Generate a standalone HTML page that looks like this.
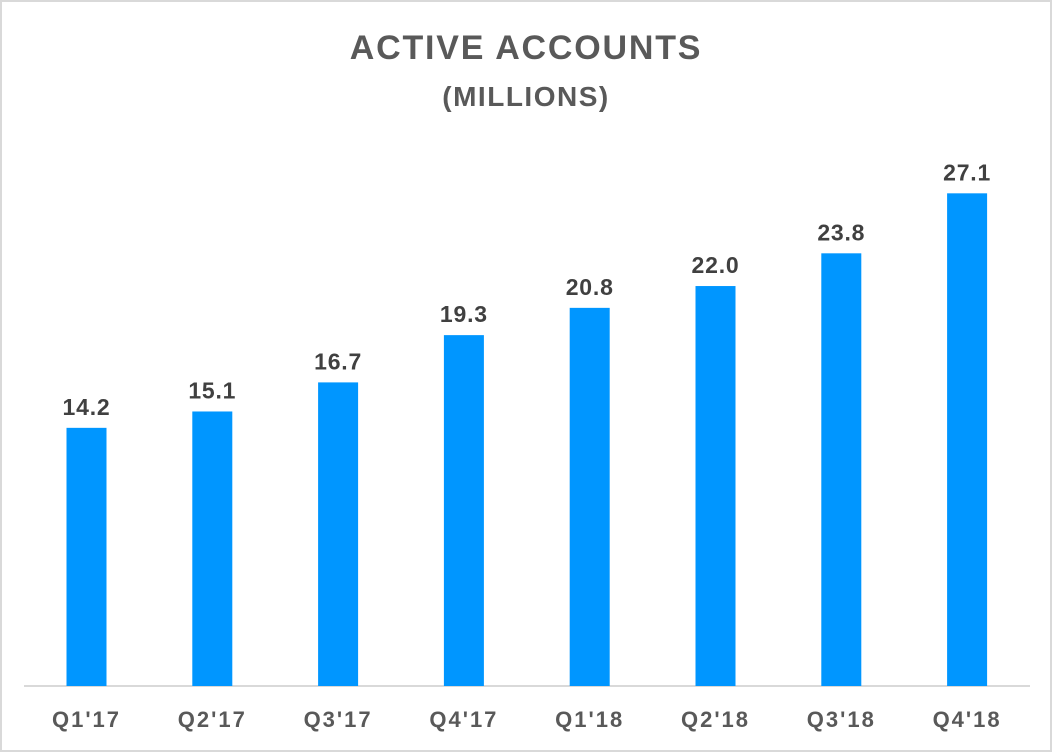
<!DOCTYPE html>
<html><head><meta charset="utf-8"><style>
body{margin:0;width:1052px;height:752px;background:#fff;overflow:hidden}
#frame{position:absolute;left:0;top:0;width:1048px;height:748px;border:2px solid #d9d9d9;background:#fff}
text{font-family:"Liberation Sans",sans-serif;font-weight:bold}
</style></head><body>
<div id="frame"></div>
<svg id="chart" width="1052" height="752" style="position:absolute;left:0;top:0">
<text x="526" y="59" text-anchor="middle" font-size="34" letter-spacing="1.8" fill="#595959">ACTIVE ACCOUNTS</text>
<text x="526" y="106" text-anchor="middle" font-size="28" letter-spacing="1.5" fill="#595959">(MILLIONS)</text>
<line x1="24" y1="686" x2="1030" y2="686" stroke="#d9d9d9" stroke-width="2"/>
<g id="bars"></g>
</svg>
<script>
const categories=["Q1'17","Q2'17","Q3'17","Q4'17","Q1'18","Q2'18","Q3'18","Q4'18"];
const values=[14.2,15.1,16.7,19.3,20.8,22.0,23.8,27.1];
const baseY=686, pxPerUnit=18.18, x0=86.5, step=125.8, bw=40;
const xs=i=>x0+i*step;
const ys=v=>baseY-v*pxPerUnit;
const g=document.getElementById('bars');
const NS='http://www.w3.org/2000/svg';
values.forEach((v,i)=>{
  const r=document.createElementNS(NS,'rect');
  r.setAttribute('x',xs(i)-bw/2);r.setAttribute('y',ys(v));
  r.setAttribute('width',bw);r.setAttribute('height',baseY-ys(v));
  r.setAttribute('fill','#0096FF');
  
  
  g.appendChild(r);
  const t=document.createElementNS(NS,'text');
  t.setAttribute('x',xs(i));t.setAttribute('y',ys(v)-13);
  t.setAttribute('text-anchor','middle');t.setAttribute('font-size','23');t.setAttribute('letter-spacing','0.8');t.setAttribute('fill','#404040');
  t.textContent=v.toFixed(1);
  
  
  g.appendChild(t);
  const c=document.createElementNS(NS,'text');
  c.setAttribute('x',xs(i));c.setAttribute('y',727);
  c.setAttribute('text-anchor','middle');c.setAttribute('font-size','22');c.setAttribute('letter-spacing','2');c.setAttribute('fill','#595959');
  c.textContent=categories[i];
  
  
  g.appendChild(c);
});
</script>
</body></html>
